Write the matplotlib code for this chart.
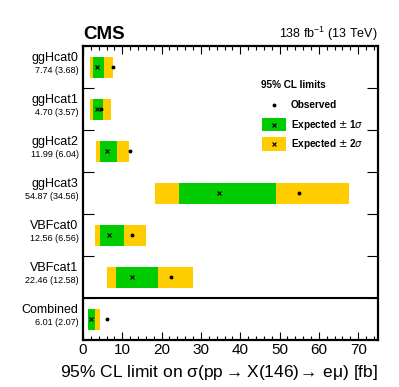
import numpy as np
import matplotlib
matplotlib.use('Agg')
import matplotlib.pyplot as plt
from matplotlib.transforms import blended_transform_factory

plt.rcParams['font.family'] = ['Liberation Sans', 'DejaVu Sans']

# categories, top to bottom
cats = ['ggHcat0', 'ggHcat1', 'ggHcat2', 'ggHcat3', 'VBFcat0', 'VBFcat1', 'Combined']
observed = [7.74, 4.70, 11.99, 54.87, 12.56, 22.46, 6.01]
expected = [3.68, 3.57, 6.04, 34.56, 6.56, 12.58, 2.07]
# +-1 sigma and +-2 sigma bands
lo1 = [2.5, 2.6, 4.4, 24.3, 4.35, 8.4, 1.3]
hi1 = [5.4, 5.2, 8.6, 49.0, 10.4, 19.0, 3.1]
lo2 = [1.9, 1.9, 3.2, 18.3, 3.0, 6.2, 1.15]
hi2 = [7.6, 7.1, 11.7, 67.7, 15.9, 27.9, 4.2]

green = '#00cc00'
yellow = '#ffcc00'

fig = plt.figure(figsize=(3.99, 3.87), dpi=100)
ax = fig.add_axes([0.208, 0.121, 0.739, 0.76])

n = len(cats)
ypos = np.arange(n)[::-1] + 0.5
h = 0.5

ax.barh(ypos, np.array(hi2) - np.array(lo2), left=lo2, height=h, color=yellow, linewidth=0)
ax.barh(ypos, np.array(hi1) - np.array(lo1), left=lo1, height=h, color=green, linewidth=0)
ax.plot(expected, ypos, 'x', color='black', markersize=2.5, markeredgewidth=0.8, linestyle='none')
ax.plot(observed, ypos, 'o', color='black', markersize=1.8, linestyle='none')

ax.axhline(1, color='black', lw=1.5)

ax.set_xlim(0, 75)
ax.set_ylim(0, n)
ax.set_xticks(np.arange(0, 71, 10))
ax.set_xticks(np.arange(0, 75, 2), minor=True)
ax.tick_params(axis='x', which='major', direction='in', top=True, length=6, width=0.8,
               labelsize=11, pad=2)
ax.tick_params(axis='x', which='minor', direction='in', top=True, length=3, width=0.8)
ax.set_yticks(np.arange(1, n))
ax.set_yticklabels([])
ax.tick_params(axis='y', which='major', direction='in', right=True, length=8, width=0.8)
for s in ax.spines.values():
    s.set_linewidth(1.6)

tr = blended_transform_factory(ax.transAxes, ax.transData)
for c, y, o, e in zip(cats, ypos, observed, expected):
    ax.text(-0.015, y + 0.07, c, transform=tr, ha='right', va='bottom', fontsize=9)
    ax.text(-0.015, y + 0.02, '%.2f (%.2f)' % (o, e), transform=tr, ha='right', va='top',
            fontsize=6.5)

ax.set_xlabel(r'95% CL limit on $\mathregular{\sigma(pp \rightarrow X(146)\!\rightarrow\, e\mu)}$ [fb]',
              fontsize=12.5, loc='right', labelpad=4)

ax.text(0.0, 1.01, 'CMS', transform=ax.transAxes, fontsize=13.5, fontweight='bold',
        ha='left', va='bottom')
ax.text(1.0, 1.01, r'138 fb$\mathregular{^{-1}}$ (13 TeV)', transform=ax.transAxes, fontsize=9,
        ha='right', va='bottom')

# legend
ta = ax.transAxes
fs = 7.2
ax.text(0.605, 0.866, '95% CL limits', transform=ta, fontsize=fs, fontweight='bold',
        va='center', ha='left')
ax.plot([0.648], [0.80], 'o', color='black', markersize=1.8, transform=ta)
ax.text(0.705, 0.80, 'Observed', transform=ta, fontsize=fs, fontweight='bold', va='center')
for yy, col, lab in [(0.733, green, r'Expected $\pm$ 1$\sigma$'),
                     (0.667, yellow, r'Expected $\pm$ 2$\sigma$')]:
    ax.add_patch(plt.Rectangle((0.608, yy - 0.023), 0.08, 0.046, transform=ta,
                               color=col, linewidth=0))
    ax.plot([0.648], [yy], 'x', color='black', markersize=2.5, markeredgewidth=0.8, transform=ta)
    ax.text(0.705, yy, lab, transform=ta, fontsize=fs, fontweight='bold', va='center')

fig.savefig('out.png', dpi=100)
